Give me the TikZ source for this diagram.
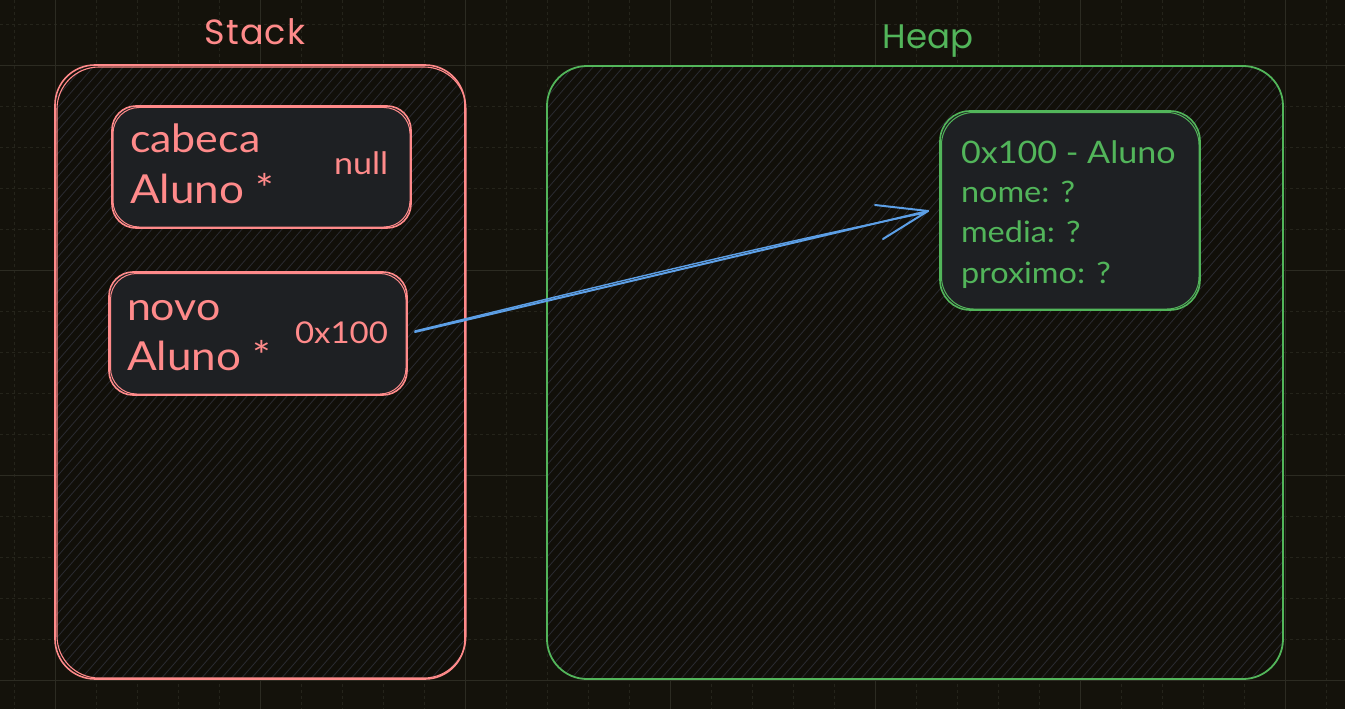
\documentclass[tikz,border=0pt]{standalone}
\usepackage{fontspec}
\setmainfont{Lato}[FakeStretch=1.1]
\newfontfamily\headfont{Poppins}
\definecolor{bgc}{HTML}{14120B}
\definecolor{gridmaj}{HTML}{2C2B22}
\definecolor{gridmin}{HTML}{25241B}
\definecolor{pinkc}{HTML}{FF8A8A}
\definecolor{greenc}{HTML}{52B55A}
\definecolor{bluec}{HTML}{5C9FE6}
\definecolor{innerfill}{HTML}{1E2023}
\definecolor{hachc}{HTML}{2A2B31}
\begin{document}
\begin{tikzpicture}[x=1pt,y=-1pt,
  box/.style={inner sep=0, outer sep=0, rounded corners=24, line width=1.6pt},
  bigbox/.style={inner sep=0, outer sep=0, rounded corners=40, line width=1.6pt},
  lbl/.style={anchor=base west, inner sep=0, outer sep=0},
  hach/.style={hachc, line width=0.8pt},
  arrowline/.style={bluec, line width=2pt, line cap=round}
]
\useasboundingbox (0,0) rectangle (1345,709);
\fill[bgc] (0,0) rectangle (1345,709);
% grid
\foreach \x in {14,55,...,1345} \draw[gridmin, line width=0.6pt, dash pattern=on 3pt off 3pt] (\x,0) -- (\x,709);
\foreach \y in {24,65,...,709} \draw[gridmin, line width=0.6pt, dash pattern=on 3pt off 3pt] (0,\y) -- (1345,\y);
\foreach \x in {55,260,...,1345} \draw[gridmaj, line width=0.8pt] (\x,0) -- (\x,709);
\foreach \y in {65,270,...,709} \draw[gridmaj, line width=0.8pt] (0,\y) -- (1345,\y);

% region nodes
\node[bigbox, minimum width=410, minimum height=614] (stack) at (260,372) {};
\node[bigbox, minimum width=736, minimum height=613] (heap) at (915,372.5) {};

% hachure fills
\begin{scope}
\clip[rounded corners=40] (stack.south west) rectangle (stack.north east);
\fill[bgc!85!black] (stack.south west) rectangle (stack.north east);
\foreach \i in {-560,-550,...,470} \draw[hach] (\i,680) -- ++(534,-614);
\end{scope}
\begin{scope}
\clip[rounded corners=40] (heap.south west) rectangle (heap.north east);
\fill[bgc!85!black] (heap.south west) rectangle (heap.north east);
\foreach \i in {0,10,...,1290} \draw[hach] (\i,680) -- ++(534,-614);
\end{scope}

% outlines of regions (sketchy double line)
\draw[pinkc, line width=1.6pt, rounded corners=40] (stack.south west) rectangle (stack.north east);
\draw[pinkc, line width=1.1pt, rounded corners=42] ([shift={(2,-1)}]stack.south west) rectangle ([shift={(1,2)}]stack.north east);
\draw[greenc, line width=1.8pt, rounded corners=40] (heap.south west) rectangle (heap.north east);

% titles
\node[anchor=base, inner sep=0, text=pinkc, font=\headfont\fontsize{35}{40}\selectfont] (stacktitle) at (255,45) {S\kern1pt t\kern1pt a\kern1pt c\kern1pt k};
\node[anchor=base, inner sep=0, text=greenc, font=\headfont\fontsize{34}{40}\selectfont] (heaptitle) at (928,49) {Heap};

% cabeca box
\node[box, minimum width=299, minimum height=122, draw=pinkc, fill=innerfill] (cabbox) at (261.5,167) {};
\draw[pinkc, line width=1pt, rounded corners=26] ([shift={(1,-1)}]cabbox.south west) rectangle ([shift={(-1,1.5)}]cabbox.north east);
\node[lbl, text=pinkc, font=\fontsize{39}{46}\selectfont] (cabname) at (130,152) {cabeca};
\node[lbl, text=pinkc, font=\fontsize{40}{46}\selectfont] (cabtype) at (130,203) {Aluno *};
\node[lbl, text=pinkc, font=\fontsize{31}{34}\selectfont] (cabval) at (334,174) {null};

% novo box
\node[box, minimum width=298, minimum height=123, draw=pinkc, fill=innerfill] (novobox) at (258,333.5) {};
\draw[pinkc, line width=1pt, rounded corners=26] ([shift={(1.5,-1)}]novobox.south west) rectangle ([shift={(-1,1.5)}]novobox.north east);
\node[lbl, text=pinkc, font=\fontsize{39}{46}\selectfont] (novoname) at (127,320) {novo};
\node[lbl, text=pinkc, font=\fontsize{40}{46}\selectfont] (novotype) at (127,370) {Aluno *};
\node[lbl, text=pinkc, font=\fontsize{30}{34}\selectfont] (novoval) at (295,343) {0x100};

% heap object
\node[box, rounded corners=30, minimum width=260, minimum height=199, draw=greenc, fill=innerfill] (obj) at (1070,210.5) {};
\draw[greenc, line width=1pt, rounded corners=32] ([shift={(1.5,-1)}]obj.south west) rectangle ([shift={(-1,1.5)}]obj.north east);
\node[lbl, text=greenc, font=\fontsize{31}{40}\selectfont] (objhead) at (961,163) {0x100 - Aluno};
\node[lbl, text=greenc, font=\fontsize{29.5}{40}\selectfont] (objnome) at (961,202) {nome: ?};
\node[lbl, text=greenc, font=\fontsize{29.5}{40}\selectfont] (objmedia) at (961,242) {media: ?};
\node[lbl, text=greenc, font=\fontsize{29.5}{40}\selectfont] (objprox) at (961,283) {proximo: ?};

% arrow
\coordinate (astart) at ([xshift=8]novobox.east |- 0,332);
\coordinate (atip) at ([xshift=-12]obj.west |- 0,211);
\draw[arrowline] (astart) -- (atip);
\draw[arrowline, line width=1.4pt] ([shift={(0,-1)}]astart) .. controls (560,296) and (760,246) .. ([shift={(-3,2)}]atip);
\draw[arrowline] (atip) -- ++(-53,-6);
\draw[arrowline] (atip) -- ++(-45,28);
\end{tikzpicture}
\end{document}
